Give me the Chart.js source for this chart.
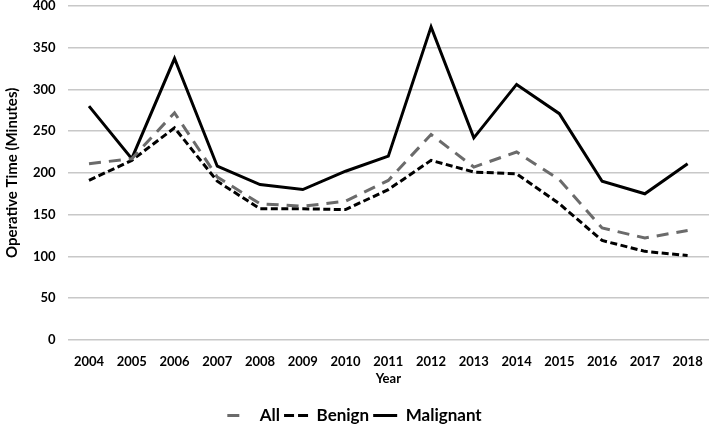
<!DOCTYPE html>
<html>
<head>
<meta charset="utf-8">
<script src="https://cdn.jsdelivr.net/npm/chart.js@4/dist/chart.umd.min.js"></script>
<style>
  html, body { margin: 0; padding: 0; background: #fff; }
  #wrap { width: 709px; height: 426px; }
</style>
</head>
<body>
<div id="wrap"><canvas id="chart" width="709" height="426"></canvas></div>
<script>
const years = ['2004', '2005', '2006', '2007', '2008', '2009', '2010', '2011', '2012', '2013', '2014', '2015', '2016', '2017', '2018'];
const allCases = [211, 217, 272, 195, 163, 160, 166, 191, 246, 207, 225, 192, 134, 122, 131];
const benign = [191, 215, 254, 190, 157, 157, 156, 180, 215, 201, 199, 163, 119, 106, 101];
const malignant = [280, 217, 337, 208, 186, 180, 202, 220, 375, 242, 306, 271, 190, 175, 211];

const font = "Lato, 'Open Sans', sans-serif";

// dash patterns for the little legend lines
const legendDash = { 'All': [12, 30], 'Benign': [10, 4] };

const chart = document.querySelector('#chart').getContext('2d');

new Chart(chart, {
    type: 'line',
    data: {
        labels: years,
        datasets: [
            {
                label: 'All',
                data: allCases,
                borderColor: '#6b6b6b',
                borderWidth: 3,
                borderDash: [12, 8]
            },
            {
                label: 'Benign',
                data: benign,
                borderColor: '#000',
                borderWidth: 3,
                borderDash: [7, 3.5]
            },
            {
                label: 'Malignant',
                data: malignant,
                borderColor: '#000',
                borderWidth: 3
            }
        ]
    },
    options: {
        responsive: false,
        animation: false,
        layout: { padding: { left: 0, right: 0, top: 0, bottom: -8 } },
        elements: {
            point: { radius: 0 },
            line: { tension: 0, borderCapStyle: 'butt' }
        },
        plugins: {
            tooltip: { enabled: false },
            legend: {
                position: 'bottom',
                labels: {
                    usePointStyle: true,
                    pointStyle: 'line',
                    pointStyleWidth: 24,
                    padding: 4,
                    color: '#000',
                    font: { family: font, size: 17, weight: 'bold' },
                    generateLabels: (c) => {
                        const items = Chart.defaults.plugins.legend.labels.generateLabels(c);
                        items.forEach(it => {
                            if (legendDash[it.text]) it.lineDash = legendDash[it.text];
                        });
                        return items;
                    }
                }
            }
        },
        scales: {
            x: {
                offset: true,
                grid: { display: true, drawOnChartArea: false, drawTicks: true, tickLength: 14, tickColor: 'rgba(0,0,0,0)', color: 'rgba(0,0,0,0)' },
                border: { display: false },
                ticks: { color: '#000', maxRotation: 0, padding: 0, font: { family: font, size: 13, weight: 'bold' } },
                title: { display: true, text: 'Year', color: '#000', padding: { top: 1.5, bottom: 16.5 }, font: { family: font, size: 13, weight: 'bold' } }
            },
            y: {
                min: 0,
                max: 400,
                ticks: { stepSize: 50, color: '#000', padding: 0, font: { family: font, size: 13, weight: 'bold', lineHeight: 0.92 } },
                grid: { color: '#c8c8c8', lineWidth: 1.5, drawTicks: true, tickLength: 12, tickColor: 'rgba(0,0,0,0)' },
                border: { display: false },
                title: { display: true, text: 'Operative Time (Minutes)', color: '#000', padding: { top: 3, bottom: 12 }, font: { family: font, size: 15, weight: 'bold' } }
            }
        }
    }
});
</script>
</body>
</html>
